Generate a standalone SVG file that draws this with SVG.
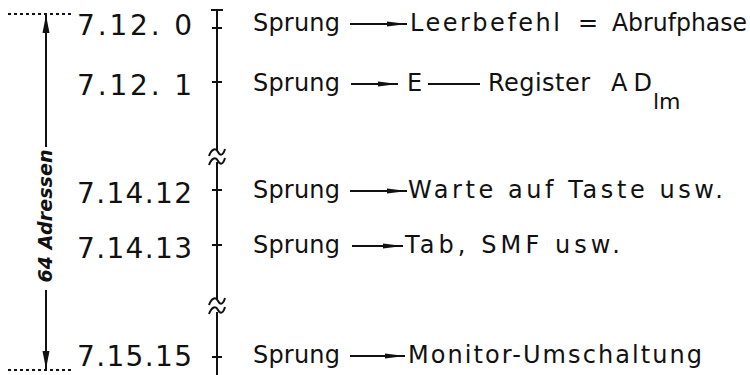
<svg xmlns="http://www.w3.org/2000/svg" width="750" height="375" viewBox="0 0 750 375">
<defs>
<style>
.num{font-family:"DejaVu Sans","Liberation Sans",sans-serif;font-size:28px;fill:#111}
.t{font-family:"DejaVu Sans","Liberation Sans",sans-serif;font-size:24px;fill:#111}
.sub{font-family:"DejaVu Sans","Liberation Sans",sans-serif;font-size:22px;fill:#111}
.lbl{font-family:"DejaVu Sans","Liberation Sans",sans-serif;font-size:19px;font-weight:bold;font-style:italic;fill:#111}
.ln{stroke:#111;stroke-width:2;fill:none}
.thin{stroke:#111;stroke-width:1.8;fill:none}
.dot{stroke:#111;stroke-width:2;stroke-dasharray:3 3;fill:none}
.arr{stroke:#111;stroke-width:1.8;fill:none;marker-end:url(#ah)}
</style>
<marker id="ah" viewBox="0 0 20 8" refX="20" refY="4" markerWidth="20" markerHeight="8" markerUnits="userSpaceOnUse" orient="auto">
<path d="M0,1.5 L20,4 L0,6.5 Z" fill="#111"/>
</marker>
<marker id="lah" viewBox="0 0 18 8" refX="18" refY="4" markerWidth="18" markerHeight="8" markerUnits="userSpaceOnUse" orient="auto">
<path d="M0,0.5 L18,4 L0,7.5 Z" fill="#111"/>
</marker>
</defs>

<g id="connectors">
<line class="dot" x1="8" y1="14" x2="73" y2="14"/>
<line class="dot" x1="8" y1="370" x2="73" y2="370"/>
<line class="ln" x1="46" y1="147" x2="46" y2="15" marker-end="url(#lah)"/>
<line class="ln" x1="46" y1="290" x2="46" y2="369" marker-end="url(#lah)"/>
<line class="ln" x1="217" y1="10" x2="217" y2="150"/>
<line class="ln" x1="217" y1="162" x2="217" y2="300"/>
<line class="ln" x1="217" y1="312" x2="217" y2="375"/>
<line class="ln" x1="211" y1="10" x2="223" y2="10"/>
<path class="ln" d="M209,156 C212,148 216,148 218,152 S223,156 225,149"/>
<path class="ln" d="M209,165 C212,157 216,157 218,161 S223,165 225,158"/>
<path class="ln" d="M209,305 C212,297 216,297 218,301 S223,305 225,298"/>
<path class="ln" d="M209,314 C212,306 216,306 218,310 S223,314 225,307"/>
<line class="ln" x1="212" y1="28" x2="222" y2="28"/>
<line class="ln" x1="212" y1="82" x2="222" y2="82"/>
<line class="ln" x1="212" y1="190" x2="222" y2="190"/>
<line class="ln" x1="212" y1="245" x2="222" y2="245"/>
<line class="ln" x1="212" y1="357" x2="222" y2="357"/>
<line class="arr" x1="350" y1="24" x2="407" y2="24"/>
<line class="arr" x1="351" y1="84" x2="398" y2="84"/>
<line class="arr" x1="350" y1="191" x2="407" y2="191"/>
<line class="arr" x1="352" y1="246" x2="403" y2="246"/>
<line class="arr" x1="350" y1="356" x2="405" y2="356"/>
<line class="thin" x1="428" y1="84" x2="480" y2="84"/>
</g>

<g id="label-64">
<text class="lbl" transform="translate(52,216) rotate(-90)" text-anchor="middle" textLength="133" lengthAdjust="spacing">64 Adressen</text>
</g>

<g id="row1">
<text class="num" x="77" y="35" textLength="115" lengthAdjust="spacing">7.12. 0</text>
<text class="t" x="253" y="31" textLength="87" lengthAdjust="spacing">Sprung</text>
<text class="t" x="410" y="31" textLength="150" lengthAdjust="spacing">Leerbefehl</text>
<text class="t" x="578" y="31">=</text>
<text class="t" x="612" y="31" textLength="135" lengthAdjust="spacingAndGlyphs">Abrufphase</text>
</g>

<g id="row2">
<text class="num" x="77" y="95" textLength="115" lengthAdjust="spacing">7.12. 1</text>
<text class="t" x="253" y="91" textLength="87" lengthAdjust="spacing">Sprung</text>
<text class="t" x="407" y="91">E</text>
<text class="t" x="488" y="91" textLength="102" lengthAdjust="spacing">Register</text>
<text class="t" x="611" y="91" textLength="41" lengthAdjust="spacing">AD</text>
<text class="sub" x="653" y="109">lm</text>
</g>

<g id="row3">
<text class="num" x="77" y="203" textLength="115" lengthAdjust="spacing">7.14.12</text>
<text class="t" x="253" y="198" textLength="87" lengthAdjust="spacing">Sprung</text>
<text class="t" x="408" y="198" textLength="315" lengthAdjust="spacing">Warte auf Taste usw.</text>
</g>

<g id="row4">
<text class="num" x="77" y="258" textLength="115" lengthAdjust="spacing">7.14.13</text>
<text class="t" x="253" y="253" textLength="87" lengthAdjust="spacing">Sprung</text>
<text class="t" x="405" y="253" textLength="215" lengthAdjust="spacing">Tab, SMF usw.</text>
</g>

<g id="row5">
<text class="num" x="77" y="366" textLength="115" lengthAdjust="spacing">7.15.15</text>
<text class="t" x="253" y="363" textLength="87" lengthAdjust="spacing">Sprung</text>
<text class="t" x="408" y="363" textLength="294" lengthAdjust="spacing">Monitor-Umschaltung</text>
</g>
</svg>
